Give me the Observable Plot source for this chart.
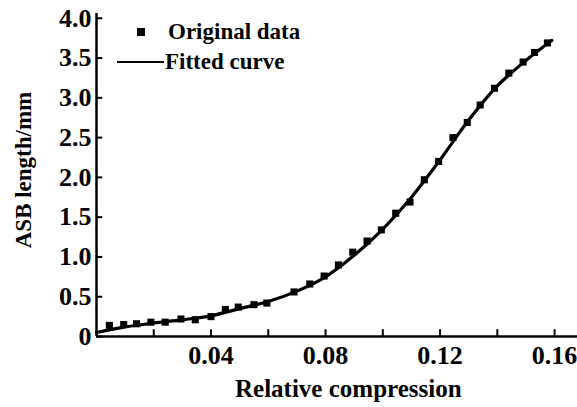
<!DOCTYPE html>
<html>
<head>
<meta charset="utf-8">
<script src="https://cdn.jsdelivr.net/npm/d3@7"></script>
<script src="https://cdn.jsdelivr.net/npm/@observablehq/plot@0.6"></script>
<style>
  html, body { margin: 0; padding: 0; background: #fff; }
  #wrap { position: relative; width: 577px; height: 407px; font-family: "Liberation Serif", "DejaVu Serif", serif; font-weight: bold; color: #000; }
  .lg { position: absolute; font-size: 23px; line-height: 1; white-space: nowrap; }
  .title { position: absolute; line-height: 1; white-space: nowrap; }
</style>
</head>
<body>
<div id="wrap"></div>
<script>
// Original data (relative compression, ASB length in mm)
const dataX = [0.0045, 0.0095, 0.014, 0.019, 0.024, 0.0295, 0.0345, 0.04, 0.045, 0.0495, 0.055, 0.0595,
               0.069, 0.0745, 0.0795, 0.0845, 0.0895, 0.0945, 0.0995, 0.1045, 0.1095, 0.1145, 0.1195,
               0.1245, 0.1295, 0.134, 0.139, 0.144, 0.149, 0.153, 0.1575];
const dataY = [0.14, 0.15, 0.16, 0.18, 0.18, 0.22, 0.21, 0.25, 0.34, 0.37, 0.40, 0.42,
               0.56, 0.66, 0.76, 0.90, 1.06, 1.20, 1.34, 1.55, 1.69, 1.97, 2.20,
               2.50, 2.69, 2.91, 3.12, 3.31, 3.45, 3.57, 3.69];
// Fitted curve
const fitX = [0, 0.01, 0.02, 0.03, 0.04, 0.05, 0.06, 0.07, 0.08, 0.09, 0.10, 0.11, 0.12, 0.13, 0.14, 0.15, 0.159];
const fitY = [0.05, 0.12, 0.17, 0.21, 0.26, 0.35, 0.44, 0.57, 0.75, 1.02, 1.35, 1.75, 2.22, 2.72, 3.15, 3.47, 3.72];
// Axis ticks
const xTicks = [0.02, 0.04, 0.06, 0.08, 0.10, 0.12, 0.14, 0.16];
const xLabels = [0.04, 0.08, 0.12, 0.16];
const yTicks = [0, 0.5, 1.0, 1.5, 2.0, 2.5, 3.0, 3.5, 4.0];

const points = dataX.map((x, i) => ({x, y: dataY[i]}));
const fit = fitX.map((x, i) => ({x, y: fitY[i]}));

const font = "Liberation Serif, DejaVu Serif, serif";

const chart = Plot.plot({
  width: 577,
  height: 407,
  marginLeft: 96,
  marginRight: 0,
  marginTop: 13,
  marginBottom: 71,
  style: {fontFamily: font, fontWeight: "bold", fontSize: "26px", background: "#fff", color: "#000"},
  x: {domain: [0, 0.168]},
  y: {domain: [0, 4.06]},
  marks: [
    Plot.axisX(xLabels, {tickSize: 0, tickPadding: 9, label: null, tickFormat: d => d3.format(".2f")(d), fontSize: 26}),
    Plot.axisY(yTicks, {tickSize: 0, tickPadding: 5, label: null, tickFormat: d => d === 0 ? "0" : d3.format(".1f")(d), fontSize: 26}),
    Plot.ruleX(xTicks, {x: d => d, y1: 0, y2: 0.085, stroke: "#000", strokeWidth: 2}),
    Plot.ruleY(yTicks, {y: d => d, x1: 0, x2: 0.0022, stroke: "#000", strokeWidth: 2}),
    Plot.ruleY([0], {stroke: "#000", strokeWidth: 2.5}),
    Plot.ruleX([0], {stroke: "#000", strokeWidth: 2.5}),
    Plot.line(fit, {x: "x", y: "y", curve: "catmull-rom", stroke: "#000", strokeWidth: 3.2}),
    Plot.dot(points, {x: "x", y: "y", symbol: "square", r: 4, fill: "#000", stroke: "none"})
  ]
});

const wrap = document.getElementById("wrap");
wrap.appendChild(chart);

function addDiv(cls, text, css) {
  const d = document.createElement("div");
  d.className = cls;
  d.textContent = text;
  Object.assign(d.style, css);
  wrap.appendChild(d);
  return d;
}
// Legend
const sq = document.createElement("div");
Object.assign(sq.style, {position: "absolute", left: "137px", top: "28px", width: "8px", height: "8px", background: "#000"});
wrap.appendChild(sq);
addDiv("lg", "Original data", {left: "168px", top: "20px"});
const ln = document.createElement("div");
Object.assign(ln.style, {position: "absolute", left: "117px", top: "61px", width: "47px", height: "2px", background: "#000"});
wrap.appendChild(ln);
addDiv("lg", "Fitted curve", {left: "165px", top: "50px"});
// Axis titles
addDiv("title", "Relative compression", {left: "235px", top: "376px", fontSize: "25px"});
addDiv("title", "ASB length/mm", {left: "23px", top: "170px", fontSize: "23px", transform: "translate(-50%, -50%) rotate(-90deg)"});
</script>
</body>
</html>
